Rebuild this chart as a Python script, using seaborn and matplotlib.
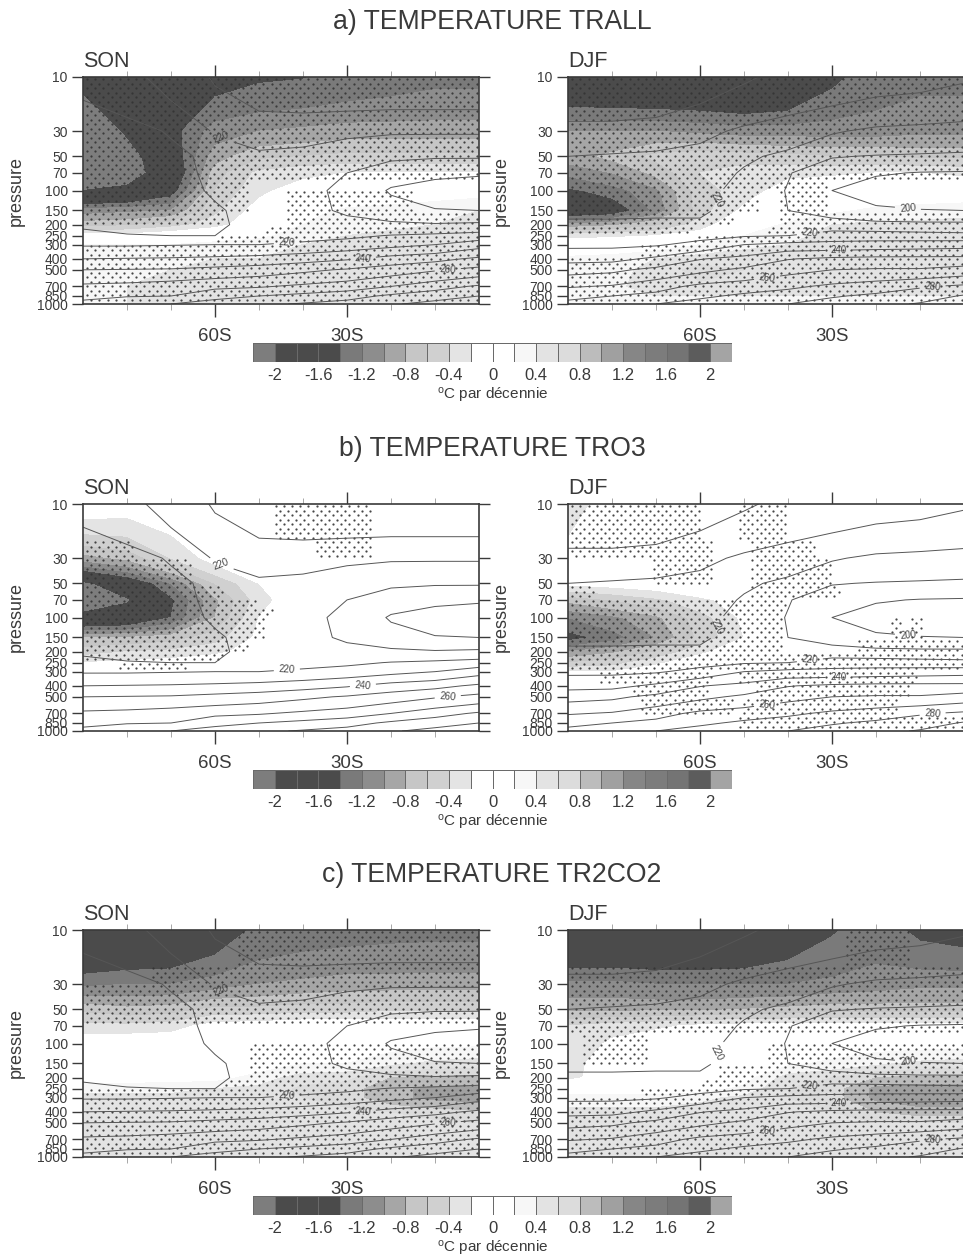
# Temperature trends, three experiments, SON and DJF columns
import numpy as np
import seaborn as sns
import matplotlib.pyplot as plt
from matplotlib.colors import ListedColormap

# ---------- DATA
lat = [-90, -80, -70, -60, -50, -40, -30, -20, -10, 0]
lev = [10, 30, 50, 70, 100, 150, 200, 250, 300, 400, 500, 700, 850, 1000]
lev_ticks = [str(p) for p in lev]
lat_major = [-60, -30]
lat_major_labels = ["60S", "30S"]
lat_minor = [-80, -70, -50, -40, -20, -10]

bar_levels = [-2.0, -1.8, -1.6, -1.4, -1.2, -1.0, -0.8, -0.6, -0.4, -0.2, 0.0,
              0.2, 0.4, 0.6, 0.8, 1.0, 1.2, 1.4, 1.6, 1.8, 2.0]
bar_colours = ["#7d7d7d", "#4b4b4b", "#4b4b4b", "#4b4b4b", "#7a7a7a", "#8d8d8d",
               "#a6a6a6", "#c6c6c6", "#d0d0d0", "#e4e4e4", "#ffffff", "#ffffff",
               "#f7f7f7", "#e3e3e3", "#dcdcdc", "#bcbcbc", "#a0a0a0", "#868686",
               "#7c7c7c", "#747474", "#5c5c5c", "#a4a4a4"]
bar_ticks = [-2, -1.6, -1.2, -0.8, -0.4, 0, 0.4, 0.8, 1.2, 1.6, 2]
bar_tick_labels = ["-2", "-1.6", "-1.2", "-0.8", "-0.4", "0", "0.4", "0.8", "1.2", "1.6", "2"]

temp_levels = [200, 210, 220, 230, 240, 250, 260, 270, 280, 290]

temp_son = [
    [213, 217, 224, 231, 235, 237, 238, 238, 238, 238],
    [203, 206, 211, 221, 225, 224, 222, 221, 221, 221],
    [202, 203, 207, 213, 218, 217, 214, 212, 211, 211],
    [202, 203, 207, 212, 215, 214, 210, 204, 202, 201],
    [203, 204, 207, 211, 214, 213, 207.5, 199, 196, 195],
    [205, 205, 206, 209, 213, 214, 208, 204, 200.5, 200],
    [208.5, 207.5, 207, 208, 214, 215, 214, 212, 211, 212],
    [212.5, 210.5, 210, 210, 215.5, 217, 218, 220.5, 222, 224],
    [219, 219, 219.5, 220, 220, 221.5, 224, 227, 230, 236],
    [230, 230.5, 231, 232, 233.5, 236, 239, 244, 247, 252],
    [240, 240.5, 241, 243, 245, 248, 251, 255, 259, 263],
    [252, 253, 255, 257.5, 259, 262, 265, 270, 276, 281.5],
    [258, 259.5, 260, 267, 270, 273, 276, 282, 286, 290],
    [262, 265, 270, 274, 278, 281, 284, 289, 293, 298],
]
temp_djf = [
    [248, 248, 247, 244, 241, 238, 236, 234, 233, 231],
    [237, 237, 236, 233, 228, 224.5, 221, 218, 217, 216],
    [230, 229, 228, 226, 221.5, 218, 210.5, 209.5, 209, 208.5],
    [229, 228, 227, 225, 219, 210.5, 205, 201, 199.5, 199],
    [228, 227, 226, 224, 216, 209.5, 200, 195, 193.5, 193],
    [222, 222, 222, 221.5, 216, 210, 206, 202, 200.5, 200],
    [218.5, 218.5, 218, 218.5, 217.5, 216, 214, 213, 212.5, 212.5],
    [216, 216, 217, 217, 219, 220, 225, 225, 224, 223],
    [218, 218, 219, 222.8, 230, 233, 233, 234, 235, 236],
    [226.5, 227, 232, 239.5, 243, 249.5, 252, 253, 253, 253],
    [236.5, 238, 242.6, 247.5, 252, 257, 260, 261, 261, 264],
    [249, 251, 256, 262.5, 265, 268, 272, 275, 279, 282],
    [258, 260, 263, 268, 272, 275, 279, 282, 285, 291],
    [262, 265, 270, 274, 277, 280, 284, 287, 291, 296],
]

# label value, latitude, pressure
label_son = [(220, -59, 38), (220, -43.7, 279), (240, -26.5, 354), (260, -7.2, 449)]
label_djf = [(200, -12.8, 151), (220, -54.9, 128), (220, -35, 245),
             (240, -28.5, 331), (260, -44.8, 568), (280, -7.2, 673)]

trend_a_son = [
    [-1.9, -1.8, -1.7, -1.5, -1.43, -1.41, -1.35, -1.3, -1.25, -1.25],
    [-2.4, -1.95, -1.5, -1.1, -1.0, -0.95, -0.9, -0.9, -0.9, -0.9],
    [-2.4, -2.2, -1.6, -0.9, -0.65, -0.6, -0.55, -0.55, -0.55, -0.55],
    [-2.2, -2.2, -1.75, -0.7, -0.35, -0.25, -0.2, -0.2, -0.2, -0.2],
    [-2.0, -1.9, -1.55, -0.6, -0.25, -0.1, -0.05, 0.0, 0.05, 0.1],
    [-1.1, -1.05, -1.0, -0.45, -0.1, 0.1, 0.25, 0.3, 0.35, 0.4],
    [-0.7, -0.65, -0.5, -0.3, 0.0, 0.2, 0.3, 0.35, 0.4, 0.45],
    [-0.1, -0.1, 0.0, 0.1, 0.15, 0.3, 0.4, 0.45, 0.5, 0.5],
    [0.2, 0.2, 0.2, 0.25, 0.3, 0.4, 0.45, 0.5, 0.5, 0.55],
    [0.3, 0.3, 0.35, 0.4, 0.4, 0.45, 0.5, 0.55, 0.6, 0.6],
    [0.35, 0.35, 0.4, 0.45, 0.45, 0.5, 0.55, 0.55, 0.55, 0.55],
    [0.35, 0.4, 0.45, 0.45, 0.5, 0.5, 0.5, 0.5, 0.5, 0.5],
    [0.35, 0.4, 0.45, 0.45, 0.45, 0.45, 0.45, 0.45, 0.45, 0.45],
    [0.35, 0.4, 0.45, 0.45, 0.45, 0.45, 0.45, 0.45, 0.45, 0.45],
]
trend_a_djf = [
    [-1.7, -1.72, -1.75, -1.75, -1.8, -1.7, -1.45, -1.3, -1.25, -1.25],
    [-1.0, -1.0, -1.0, -1.05, -1.1, -1.1, -1.1, -1.1, -1.05, -1.05],
    [-0.9, -0.75, -0.55, -0.45, -0.5, -0.55, -0.6, -0.6, -0.65, -0.65],
    [-1.15, -1.0, -0.75, -0.4, -0.3, -0.25, -0.25, -0.2, -0.2, -0.25],
    [-1.45, -1.3, -1.05, -0.5, -0.3, -0.1, 0.05, 0.0, 0.0, 0.0],
    [-1.7, -1.6, -1.15, -0.5, -0.15, 0.0, 0.15, 0.25, 0.3, 0.35],
    [-0.95, -0.85, -0.65, -0.3, 0.0, 0.25, 0.4, 0.45, 0.45, 0.45],
    [-0.3, -0.25, -0.2, -0.1, 0.2, 0.35, 0.45, 0.5, 0.5, 0.5],
    [0.0, 0.0, 0.05, 0.2, 0.3, 0.4, 0.5, 0.5, 0.5, 0.5],
    [0.25, 0.3, 0.4, 0.5, 0.6, 0.5, 0.45, 0.45, 0.45, 0.45],
    [0.3, 0.35, 0.45, 0.7, 0.6, 0.5, 0.45, 0.45, 0.45, 0.45],
    [0.3, 0.35, 0.5, 0.55, 0.5, 0.45, 0.45, 0.45, 0.45, 0.45],
    [0.4, 0.4, 0.4, 0.4, 0.4, 0.4, 0.4, 0.4, 0.4, 0.4],
    [0.4, 0.4, 0.4, 0.4, 0.4, 0.4, 0.4, 0.4, 0.4, 0.4],
]
trend_b_son = [
    [-0.05, -0.1, -0.05, 0.0, 0.0, 0.0, 0.0, 0.0, 0.0, 0.0],
    [-0.9, -0.75, -0.4, -0.1, 0.0, 0.0, 0.0, 0.0, 0.0, 0.0],
    [-2.1, -1.7, -1.2, -0.6, -0.2, 0.0, 0.0, 0.0, 0.0, 0.0],
    [-2.3, -2.05, -1.45, -0.85, -0.3, 0.0, 0.0, 0.0, 0.0, 0.0],
    [-1.85, -1.75, -1.4, -0.8, -0.2, 0.0, 0.0, 0.0, 0.0, 0.0],
    [-0.8, -0.8, -0.7, -0.5, -0.15, 0.0, 0.0, 0.0, 0.0, 0.0],
    [-0.5, -0.4, -0.35, -0.25, -0.1, 0.0, 0.0, 0.0, 0.0, 0.0],
    [-0.2, -0.15, -0.1, -0.05, 0.0, 0.0, 0.0, 0.0, 0.0, 0.0],
    [0.0, 0.0, 0.0, 0.0, 0.0, 0.0, 0.0, 0.0, 0.0, 0.0],
    [0.0, 0.0, 0.0, 0.0, 0.0, 0.0, 0.0, 0.0, 0.0, 0.0],
    [0.0, 0.0, 0.0, 0.0, 0.0, 0.0, 0.0, 0.0, 0.0, 0.0],
    [0.0, 0.0, 0.0, 0.0, 0.0, 0.0, 0.0, 0.0, 0.0, 0.0],
    [0.0, 0.0, 0.0, 0.0, 0.0, 0.0, 0.0, 0.0, 0.0, 0.0],
    [0.0, 0.0, 0.0, 0.0, 0.0, 0.0, 0.0, 0.0, 0.0, 0.0],
]
trend_b_djf = [
    [-0.3, -0.1, 0.0, 0.0, 0.0, 0.0, 0.0, 0.0, 0.0, 0.0],
    [-0.1, 0.0, 0.0, 0.0, 0.0, 0.0, 0.0, 0.0, 0.0, 0.0],
    [-0.15, -0.1, -0.05, 0.0, 0.0, 0.0, 0.0, 0.0, 0.0, 0.0],
    [-0.75, -0.6, -0.45, -0.25, -0.1, 0.0, 0.0, 0.0, 0.0, 0.0],
    [-1.2, -1.05, -0.85, -0.5, -0.15, 0.0, 0.0, 0.0, 0.0, 0.0],
    [-1.5, -1.3, -1.0, -0.55, -0.2, 0.0, 0.0, 0.0, 0.0, 0.0],
    [-1.0, -0.85, -0.6, -0.25, -0.05, 0.0, 0.0, 0.0, 0.0, 0.0],
    [-0.6, -0.5, -0.25, -0.05, 0.0, 0.0, 0.0, 0.0, 0.0, 0.0],
    [-0.2, -0.2, -0.05, 0.0, 0.0, 0.0, 0.0, 0.0, 0.0, 0.0],
    [0.0, 0.0, 0.0, 0.0, 0.0, 0.0, 0.0, 0.0, 0.0, 0.0],
    [0.0, 0.0, 0.0, 0.0, 0.0, 0.0, 0.0, 0.0, 0.0, 0.0],
    [0.0, 0.0, 0.0, 0.0, 0.0, 0.0, 0.0, 0.0, 0.0, 0.0],
    [0.0, 0.0, 0.0, 0.0, 0.0, 0.0, 0.0, 0.0, 0.0, 0.0],
    [0.0, 0.0, 0.0, 0.0, 0.0, 0.0, 0.0, 0.0, 0.0, 0.0],
]
trend_c_son = [
    [-1.8, -1.75, -1.7, -1.55, -1.35, -1.3, -1.28, -1.26, -1.25, -1.25],
    [-1.25, -1.2, -1.2, -1.1, -1.0, -0.95, -0.9, -0.9, -0.9, -0.9],
    [-0.65, -0.75, -0.7, -0.55, -0.55, -0.5, -0.5, -0.45, -0.45, -0.45],
    [-0.35, -0.35, -0.3, -0.1, -0.05, 0.0, 0.0, 0.0, 0.0, 0.0],
    [0.0, 0.0, 0.0, 0.0, 0.0, 0.05, 0.1, 0.1, 0.15, 0.15],
    [0.0, 0.0, 0.0, 0.0, 0.05, 0.2, 0.2, 0.35, 0.45, 0.5],
    [0.05, 0.05, 0.1, 0.1, 0.3, 0.5, 0.55, 0.8, 0.85, 0.85],
    [0.35, 0.35, 0.35, 0.4, 0.45, 0.65, 0.7, 0.95, 1.05, 1.05],
    [0.45, 0.45, 0.45, 0.45, 0.5, 0.6, 0.7, 0.95, 1.05, 1.1],
    [0.45, 0.45, 0.45, 0.5, 0.5, 0.5, 0.55, 0.6, 0.7, 0.75],
    [0.45, 0.45, 0.45, 0.5, 0.5, 0.5, 0.5, 0.55, 0.55, 0.6],
    [0.45, 0.45, 0.45, 0.45, 0.45, 0.45, 0.45, 0.45, 0.45, 0.45],
    [0.45, 0.45, 0.45, 0.45, 0.45, 0.45, 0.45, 0.45, 0.45, 0.45],
    [0.45, 0.45, 0.45, 0.45, 0.45, 0.45, 0.45, 0.45, 0.45, 0.45],
]
trend_c_djf = [
    [-1.75, -1.75, -1.75, -1.75, -1.7, -1.55, -1.42, -1.3, -1.45, -1.5],
    [-1.15, -1.15, -1.2, -1.2, -1.2, -1.2, -1.15, -1.1, -1.05, -1.05],
    [-0.85, -0.85, -0.85, -0.85, -0.8, -0.75, -0.7, -0.7, -0.7, -0.7],
    [-0.4, -0.3, -0.25, -0.15, -0.1, -0.1, -0.1, -0.1, -0.1, -0.1],
    [-0.4, -0.15, 0.0, 0.0, 0.0, 0.0, 0.05, 0.1, 0.1, 0.1],
    [-0.3, -0.05, 0.0, 0.0, 0.0, 0.15, 0.25, 0.35, 0.45, 0.5],
    [-0.25, -0.1, 0.0, 0.0, 0.1, 0.5, 0.6, 0.8, 0.85, 0.85],
    [0.0, 0.0, 0.0, 0.1, 0.25, 0.6, 0.7, 1.05, 1.1, 1.1],
    [0.3, 0.3, 0.3, 0.35, 0.45, 0.6, 0.7, 1.05, 1.15, 1.15],
    [0.45, 0.45, 0.45, 0.5, 0.5, 0.5, 0.6, 0.8, 0.9, 0.9],
    [0.45, 0.45, 0.45, 0.5, 0.5, 0.5, 0.55, 0.6, 0.6, 0.6],
    [0.45, 0.45, 0.45, 0.45, 0.45, 0.45, 0.45, 0.45, 0.45, 0.45],
    [0.45, 0.45, 0.45, 0.45, 0.45, 0.45, 0.45, 0.45, 0.45, 0.45],
    [0.45, 0.45, 0.45, 0.45, 0.45, 0.45, 0.45, 0.45, 0.45, 0.45],
]

# significance: for each pressure band, the latitude ranges that are stippled
band_edges = [10, 20, 30, 50, 70, 85, 100, 150, 200, 250, 300, 400, 500, 700, 850, 1000]
all_lat = (-90, 0)
sig_a_son = [[all_lat], [all_lat], [all_lat], [all_lat], [all_lat],
             [(-90, -52)], [(-90, -52), (-44, -15)], [(-90, -58), (-44, 0)],
             [(-49, 0)], [(-60, 0)],
             [all_lat], [all_lat], [all_lat], [all_lat], [all_lat]]
sig_a_djf = [[all_lat], [all_lat], [all_lat], [all_lat], [all_lat],
             [(-90, -31)], [(-90, -47), (-42, -31)], [(-90, -52), (-42, 0)],
             [(-90, -62), (-45, 0)], [(-62, 0)],
             [(-74, 0)], [all_lat], [all_lat], [all_lat], [all_lat]]
sig_b_son = [[(-47, -24)], [(-90, -78), (-37, -24)], [(-90, -65)], [(-90, -58)], [(-90, -50)],
             [(-90, -47)], [(-90, -49)], [(-90, -52)],
             [(-90, -58)], [(-82, -66)],
             [], [], [], [], []]
sig_b_djf = [[(-90, -60), (-51, -40)], [(-90, -57), (-49, -34)], [(-71, -57), (-49, -30)],
             [(-90, -84), (-49, -28)], [(-90, -40)],
             [(-90, -41)], [(-90, -41), (-17, -14), (-12, -9)], [(-90, -41), (-24, 0)],
             [all_lat], [all_lat],
             [(-83, -57), (-51, -10)], [(-76, -58), (-48, -12)],
             [(-74, -52), (-50, -15)], [(-51, 0)], [(-51, 0)]]
sig_c_son = [[(-55, 0)], [(-75, 0)], [all_lat], [all_lat], [],
             [], [(-52, 0)], [(-52, 0)],
             [(-58, 0)], [all_lat],
             [all_lat], [all_lat], [all_lat], [all_lat], [all_lat]]
sig_c_djf = [[(-27, -12)], [all_lat], [all_lat], [all_lat], [all_lat],
             [(-87, -72)], [(-87, -72), (-45, 0)], [(-56, 0)],
             [(-60, 0)], [(-74, 0)],
             [all_lat], [all_lat], [all_lat], [all_lat], [all_lat]]

row_titles = ["a) TEMPERATURE TRALL", "b) TEMPERATURE TRO3", "c) TEMPERATURE TR2CO2"]
row_trends = [(trend_a_son, trend_a_djf), (trend_b_son, trend_b_djf), (trend_c_son, trend_c_djf)]
row_sigs = [(sig_a_son, sig_a_djf), (sig_b_son, sig_b_djf), (sig_c_son, sig_c_djf)]

# ---------- LAYOUT (pixels of the 963x1259 picture)
W, H = 963, 1259
col_left = [83, 568]
panel_w, panel_h = 396, 227
row_top = [77, 504, 930]
bar_left, bar_w, bar_h = 253, 479, 19
ink = "#3a3a3a"


def px_axes(fig, left, top, width, height):
    return fig.add_axes([left / W, 1 - (top + height) / H, width / W, height / H])


def stipple_points(sig):
    # staggered lattice, 8 px across and 4.5 px down
    deg_step = 8.2 / (panel_w / 90)
    decade_step = 4.5 / (panel_h / 2)
    xs, ys = [], []
    rows = np.arange(1 + decade_step / 2, 3, decade_step)
    for r, logp in enumerate(rows):
        p = 10 ** logp
        band = np.searchsorted(band_edges, p) - 1
        start = -90 + 0.5 * deg_step + (r % 2) * deg_step / 2
        for x in np.arange(start, 0, deg_step):
            if any(a <= x <= b for a, b in sig[band]):
                xs.append(x)
                ys.append(p)
    return xs, ys


def draw_panel(ax, trend, temp, sig, labels, season):
    ax.set_yscale("log")
    ax.contourf(lat, lev, trend, levels=bar_levels, colors=bar_colours, extend="both")
    xs, ys = stipple_points(sig)
    sns.scatterplot(x=xs, y=ys, ax=ax, s=2.6, color="#333333", alpha=0.9, linewidth=0, legend=False)
    # one contour set per level, clabel then only sees the level it labels
    for level in temp_levels:
        cs = ax.contour(lat, lev, temp, levels=[level], colors="#565656", linewidths=0.7)
        spots = [(x, y) for value, x, y in labels if value == level]
        if spots:
            ax.clabel(cs, manual=spots, fmt="%d", fontsize=7, colors="#444444")

    ax.set_xlim(-90, 0)
    ax.set_ylim(1000, 10)
    ax.set_yticks(lev)
    ax.set_yticklabels(lev_ticks, fontsize=10, color=ink)
    ax.minorticks_off()
    ax.set_xticks(lat_major)
    ax.set_xticklabels(lat_major_labels, fontsize=13.5, color=ink)
    ax.set_xticks(lat_minor, minor=True)
    ax.tick_params(axis="y", which="major", left=True, right=True, length=8, width=1, color=ink, pad=3)
    ax.tick_params(axis="x", which="major", top=True, bottom=True, length=9, width=1, color=ink, pad=8)
    ax.tick_params(axis="x", which="minor", top=True, bottom=True, length=4, width=0.6, color="#999999")
    for spine in ax.spines.values():
        spine.set_visible(True)
        spine.set_linewidth(1.2)
        spine.set_color(ink)
    ax.set_xlabel("")
    ax.set_ylabel("pressure", fontsize=13, color=ink)
    ax.yaxis.set_label_coords(-58 / panel_w, 0.5)
    ax.set_title(season, loc="left", fontsize=15.5, color=ink, pad=7.5)


def draw_bar(fig, top):
    cax = px_axes(fig, bar_left, top, bar_w, bar_h)
    boxes = np.arange(len(bar_colours)).reshape(1, -1)
    sns.heatmap(boxes, ax=cax, cmap=ListedColormap(bar_colours), cbar=False,
                linewidths=0.7, linecolor="#6a6a6a", xticklabels=False, yticklabels=False)
    # the tick -2 sits on the second box edge, one box per 0.2
    cax.set_xticks([1 + (t + 2) / 0.2 for t in bar_ticks])
    cax.set_xticklabels(bar_tick_labels, fontsize=12, color=ink)
    cax.tick_params(axis="x", length=0, pad=4)
    cax.set_yticks([])
    fig.text((bar_left + bar_w / 2) / W, 1 - (top + 52) / H, "$\\mathregular{^{o}}$C par décennie",
             fontsize=11, color=ink, ha="center", va="center")


# ---------- PLOTTING
sns.set_theme(style="ticks")
plt.rcParams["font.family"] = ["Liberation Sans", "DejaVu Sans"]
fig = plt.figure(figsize=(W / 100, H / 100), dpi=100)

for i in range(3):
    fig.text(492 / W, 1 - (row_top[i] - 55) / H, row_titles[i], fontsize=19.2, color=ink,
             ha="center", va="center")
    ax = px_axes(fig, col_left[0], row_top[i], panel_w, panel_h)
    draw_panel(ax, row_trends[i][0], temp_son, row_sigs[i][0], label_son, "SON")
    ax = px_axes(fig, col_left[1], row_top[i], panel_w, panel_h)
    draw_panel(ax, row_trends[i][1], temp_djf, row_sigs[i][1], label_djf, "DJF")
    draw_bar(fig, row_top[i] + 266)

fig.savefig("out.png", dpi=100)
